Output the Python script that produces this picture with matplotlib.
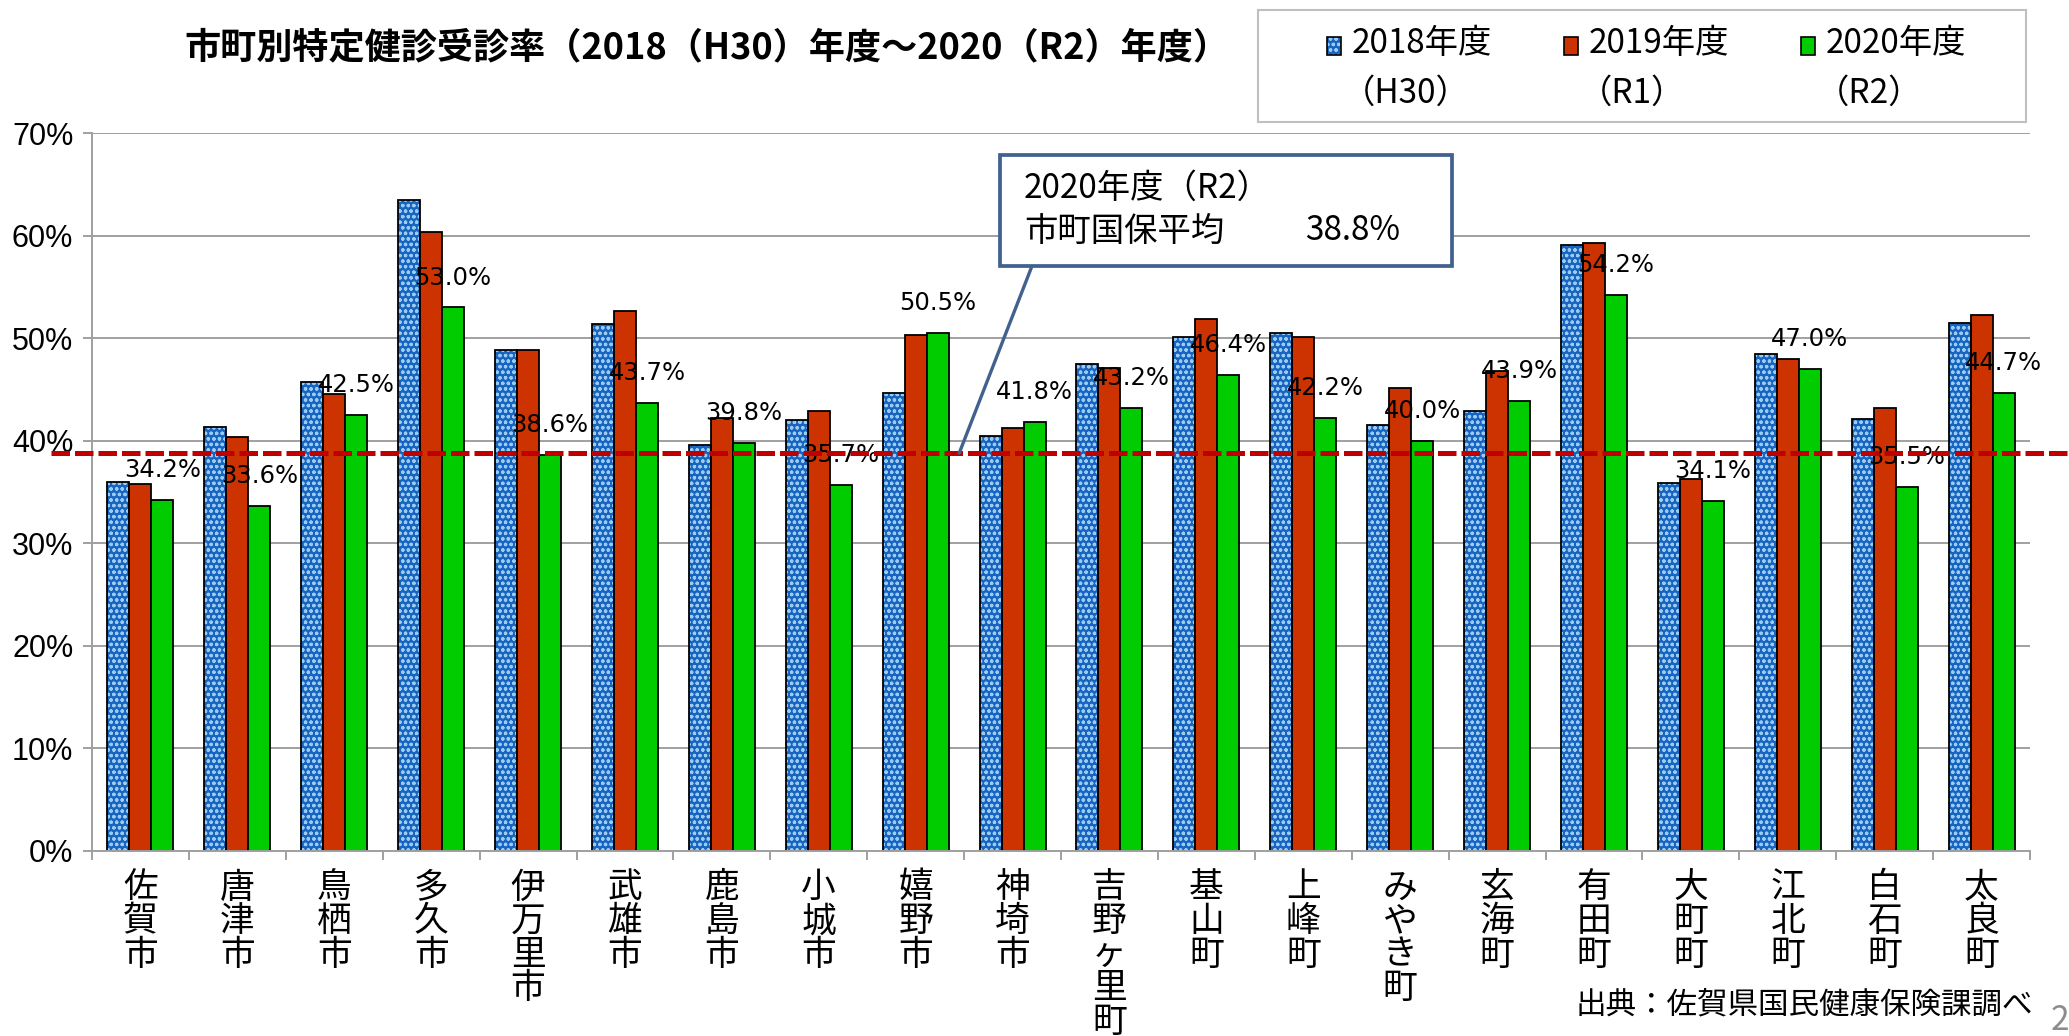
import matplotlib
matplotlib.use('Agg')
import matplotlib.pyplot as plt
from matplotlib.patches import Rectangle
import numpy as np

# ---------------- data ----------------
categories = ['佐賀市', '唐津市', '鳥栖市', '多久市', '伊万里市', '武雄市', '鹿島市',
              '小城市', '嬉野市', '神埼市', '吉野ヶ里町', '基山町', '上峰町', 'みやき町',
              '玄海町', '有田町', '大町町', '江北町', '白石町', '太良町']
rate_2018 = [36.0, 41.3, 45.7, 63.5, 48.8, 51.4, 39.6, 42.0, 44.7, 40.5,
             47.5, 50.1, 50.5, 41.5, 42.9, 59.1, 35.9, 48.5, 42.1, 51.5]
rate_2019 = [35.8, 40.4, 44.6, 60.3, 48.8, 52.6, 42.2, 42.9, 50.3, 41.2,
             47.1, 51.9, 50.1, 45.1, 46.8, 59.3, 36.3, 48.0, 43.2, 52.3]
rate_2020 = [34.2, 33.6, 42.5, 53.0, 38.6, 43.7, 39.8, 35.7, 50.5, 41.8,
             43.2, 46.4, 42.2, 40.0, 43.9, 54.2, 34.1, 47.0, 35.5, 44.7]
average_2020 = 38.8
series_line1 = ['2018年度', '2019年度', '2020年度']
series_line2 = ['（H30）', '（R1）', '（R2）']
y_ticks = [0, 10, 20, 30, 40, 50, 60, 70]
title = '市町別特定健診受診率（2018（H30）年度～2020（R2）年度）'
callout_line1 = '2020年度（R2）'
callout_line2 = '市町国保平均'
source_note = '出典：佐賀県国民健康保険課調べ'

# ---------------- style ----------------
plt.rcParams['font.family'] = ['Noto Sans CJK JP', 'DejaVu Sans']
plt.rcParams['hatch.linewidth'] = 0.9
W, H = 2069, 1036
BLUE = '#1765C0'
BLUE_HATCH = '#9CCBF2'
RED = '#CC3300'
GREEN = '#00CC00'
GRID = '#A0A0A0'
CALLOUT = '#41618E'

fig = plt.figure(figsize=(W / 100, H / 100), dpi=100)
ax = fig.add_axes([92 / W, 1 - 851 / H, 1938 / W, 718 / H])

x = np.arange(len(categories))
bw = 0.227

# 2018: patterned bars (hatch drawn in edge colour) + black outlines
ax.bar(x - bw, rate_2018, bw, color=BLUE, edgecolor=BLUE_HATCH, hatch='ooo',
       linewidth=0, zorder=2)
ax.bar(x - bw, rate_2018, bw, fill=False, edgecolor='black', linewidth=1.3, zorder=2.1)
ax.bar(x, rate_2019, bw, color=RED, edgecolor='black', linewidth=1.3, zorder=2)
ax.bar(x + bw, rate_2020, bw, color=GREEN, edgecolor='black', linewidth=1.3, zorder=2)

# data labels for 2020
for xi, v in zip(x, rate_2020):
    ax.annotate(f'{v:.1f}%', xy=(xi + bw, v), xytext=(0, 21.5),
                textcoords='offset points', ha='center', va='center',
                fontsize=17.5, family=['DejaVu Sans'], zorder=3)

# average line
ax.axhline(average_2020, xmin=-0.0212, xmax=1.03, color='#C00000', lw=3.6,
           linestyle=(0, (3.7, 1.0)), clip_on=False, zorder=4)

# axes
ax.set_xlim(-0.5, len(categories) - 0.5)
ax.set_ylim(0, 70)
ax.set_yticks(y_ticks)
ax.set_yticklabels([f'{t}%' for t in y_ticks], fontsize=22,
                   family=['Liberation Sans Narrow', 'Liberation Sans'])
ax.yaxis.grid(True, color=GRID, lw=1.4, zorder=0)
ax.set_axisbelow(True)
ax.tick_params(axis='y', length=6.5, width=1.4, color=GRID, pad=7)

ax.set_xticks(x)
ax.set_xticklabels(['\n'.join(c) for c in categories], fontsize=25,
                   linespacing=0.95, va='top')
ax.set_xticks(np.arange(len(categories) + 1) - 0.5, minor=True)
ax.tick_params(axis='x', which='major', length=0, pad=14)
ax.tick_params(axis='x', which='minor', length=6.5, width=1.4, color=GRID)

for s in ['top', 'right']:
    ax.spines[s].set_visible(False)
for s in ['left', 'bottom']:
    ax.spines[s].set_color(GRID)
    ax.spines[s].set_linewidth(1.4)

# title
fig.text(707 / W, 1 - 48 / H, title, ha='center', va='center',
         fontsize=26, fontweight='bold')

# legend (manual, two-line labels)
fig.add_artist(Rectangle((1258 / W, 1 - 122 / H), 768 / W, 112 / H,
                         transform=fig.transFigure, facecolor='white',
                         edgecolor='#BFBFBF', lw=1.5, zorder=5))
leg_colors = [BLUE, RED, GREEN]
for i in range(3):
    x0 = 1327 + 237 * i
    if i == 0:
        fig.add_artist(Rectangle((x0 / W, 1 - 55 / H), 14 / W, 18 / H,
                                 transform=fig.transFigure, facecolor=BLUE,
                                 edgecolor=BLUE_HATCH, hatch='ooo', lw=0, zorder=6))
        fig.add_artist(Rectangle((x0 / W, 1 - 55 / H), 14 / W, 18 / H,
                                 transform=fig.transFigure, fill=False,
                                 edgecolor='black', lw=1.2, zorder=6.1))
    else:
        fig.add_artist(Rectangle((x0 / W, 1 - 55 / H), 14 / W, 18 / H,
                                 transform=fig.transFigure, facecolor=leg_colors[i],
                                 edgecolor='black', lw=1.2, zorder=6))
    fig.text((x0 + 25) / W, 1 - 44 / H, series_line1[i], ha='left', va='center',
             fontsize=24, zorder=7)
    fig.text((x0 + 15) / W, 1 - 93 / H, series_line2[i], ha='left', va='center',
             fontsize=24, zorder=7)

# callout box
fig.add_artist(Rectangle((1000 / W, 1 - 266 / H), 452 / W, 111 / H,
                         transform=fig.transFigure, facecolor='white',
                         edgecolor=CALLOUT, lw=2.7, zorder=5))
ax.annotate('', xy=(8.45, average_2020), xycoords='data',
            xytext=(1032 / W, 1 - 266 / H), textcoords='figure fraction',
            arrowprops=dict(arrowstyle='-', color=CALLOUT, lw=2.4,
                            shrinkA=0, shrinkB=0), zorder=5)
fig.text(1024 / W, 1 - 188 / H, callout_line1, ha='left', va='center',
         fontsize=24, zorder=7)
fig.text(1024 / W, 1 - 231 / H, callout_line2, ha='left', va='center',
         fontsize=24, zorder=7)
fig.text(1305 / W, 1 - 231 / H, f'{average_2020}%', ha='left', va='center',
         fontsize=24, zorder=7)

# source note and page number
fig.text(2033 / W, 1 - 1005 / H, source_note, ha='right', va='center', fontsize=22)
fig.text(2051 / W, 1 - 1003 / H, '2', ha='left', va='top', fontsize=24, color='#8C8C8C')

fig.savefig('out.png', dpi=100)
